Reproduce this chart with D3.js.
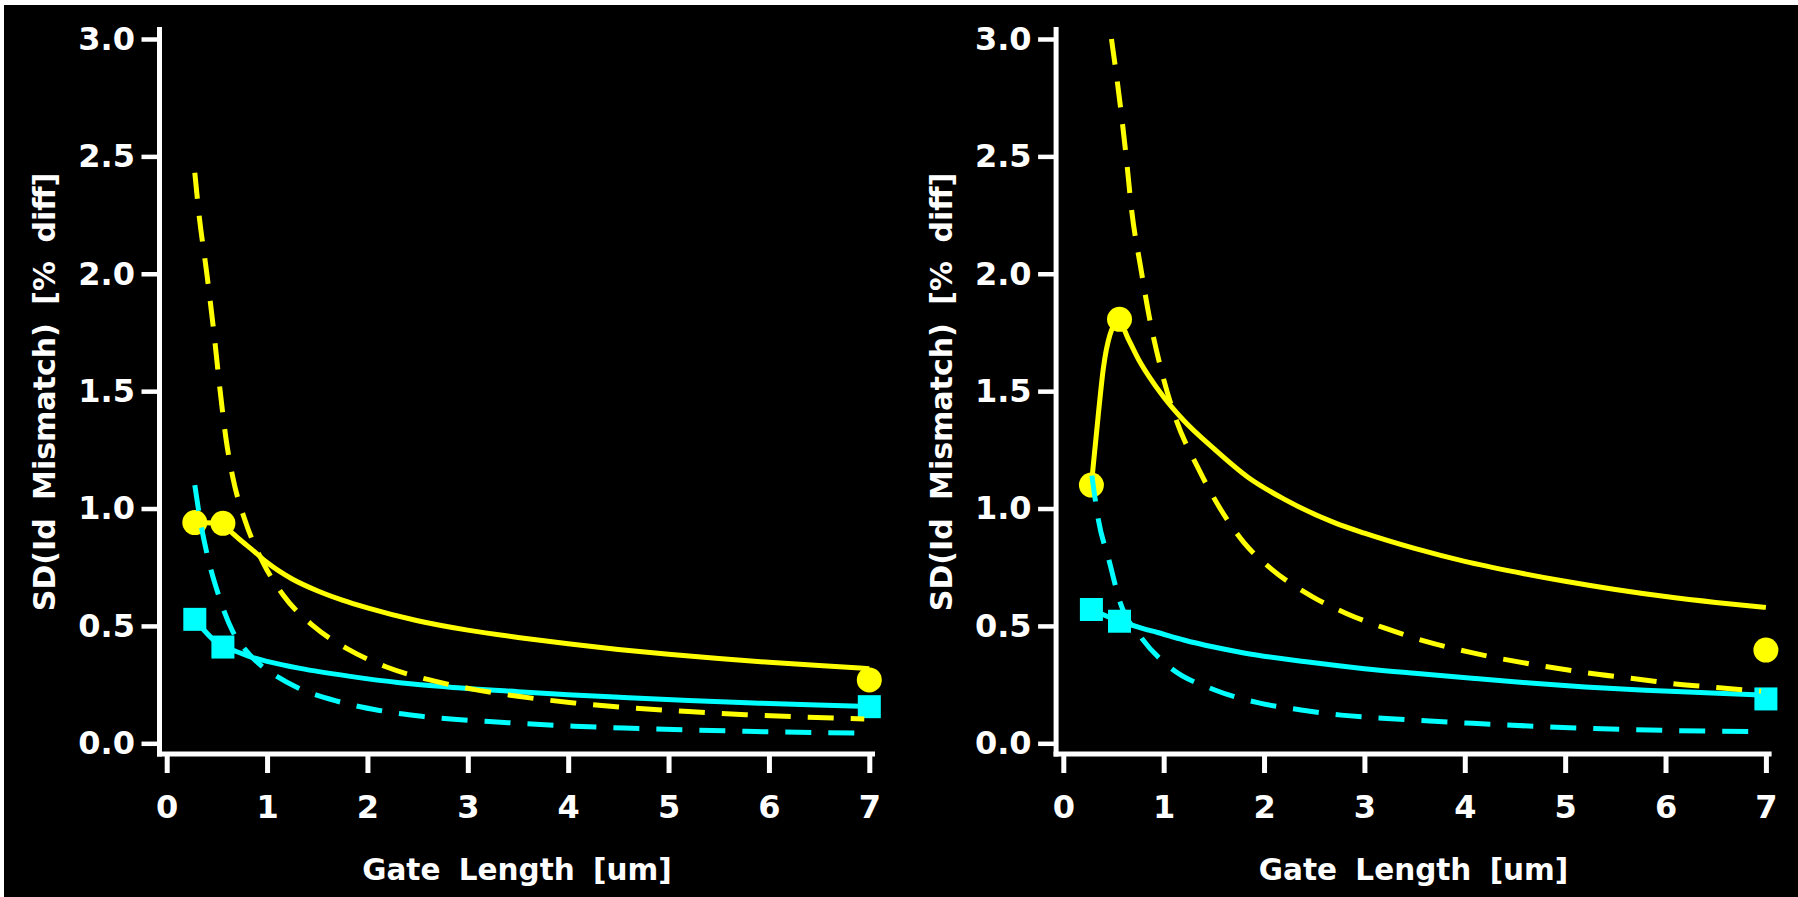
<!DOCTYPE html>
<html>
<head>
<meta charset="utf-8">
<script src="https://cdn.jsdelivr.net/npm/d3@7"></script>
<style>
  html, body { margin: 0; padding: 0; background: #000; }
  svg { display: block; }
</style>
</head>
<body>
<svg id="chart" width="1798" height="897"></svg>
<script>
// ---- axis ticks ----
const xTicks = [0, 1, 2, 3, 4, 5, 6, 7];
const yTicks = [0, 0.5, 1.0, 1.5, 2.0, 2.5, 3.0];

// ---- measured gate lengths (um) ----
const measuredL = [0.28, 0.56, 7];

// ---- left panel ----
const leftYellowMeasured = [0.94, 0.937, 0.27];
const leftCyanMeasured   = [0.528, 0.41, 0.156];
const leftYellowSolid = [
  [0.28, 0.94], [0.56, 0.937], [0.63, 0.905], [0.75, 0.86], [0.85, 0.825],
  [1.0, 0.77], [1.25, 0.70], [1.5, 0.65], [1.75, 0.61], [2.0, 0.577],
  [2.5, 0.522], [3.0, 0.482], [3.5, 0.451], [4.0, 0.424], [4.5, 0.40],
  [5.0, 0.379], [5.5, 0.361], [6.0, 0.345], [6.5, 0.331], [7.0, 0.318]
];
const leftCyanSolid = [
  [0.28, 0.528], [0.56, 0.41], [0.70, 0.39], [0.85, 0.366], [1.0, 0.349],
  [1.33, 0.319], [1.83, 0.285], [2.32, 0.258], [2.8, 0.24], [3.5, 0.22],
  [4.0, 0.207], [4.6, 0.194], [5.2, 0.182], [5.9, 0.171], [6.4, 0.164],
  [7.0, 0.157]
];
const leftYellowDashed = [
  [0.28, 2.43], [0.32, 2.26], [0.40, 2.0], [0.47, 1.75], [0.53, 1.51],
  [0.59, 1.30], [0.66, 1.13], [0.78, 0.95], [0.96, 0.77], [1.16, 0.632],
  [1.46, 0.50], [1.81, 0.40], [2.19, 0.325], [2.6, 0.272], [3.03, 0.232],
  [3.5, 0.20], [4.06, 0.172], [4.63, 0.151], [5.2, 0.135], [5.77, 0.122],
  [6.35, 0.112], [6.95, 0.104]
];
const leftCyanDashed = [
  [0.28, 1.10], [0.33, 0.96], [0.40, 0.81], [0.51, 0.64], [0.66, 0.475],
  [0.78, 0.40], [0.93, 0.335], [1.08, 0.29], [1.31, 0.236], [1.71, 0.178],
  [2.12, 0.14], [2.54, 0.115], [3.4, 0.088], [4.06, 0.073], [4.63, 0.064],
  [5.77, 0.051], [6.95, 0.043]
];

// ---- right panel ----
const rightYellowMeasured = [1.10, 1.806, 0.397];
const rightCyanMeasured   = [0.57, 0.52, 0.189];
const rightYellowSolid = [
  [0.28, 1.10], [0.30, 1.19], [0.35, 1.405], [0.40, 1.60], [0.465, 1.74],
  [0.55, 1.80], [0.65, 1.72], [0.75, 1.635], [0.85, 1.565], [1.0, 1.475],
  [1.2, 1.375], [1.5, 1.255], [1.85, 1.13], [2.2, 1.04], [2.7, 0.94],
  [3.0, 0.895], [3.5, 0.83], [4.0, 0.775], [4.5, 0.73], [5.0, 0.69],
  [5.5, 0.655], [6.0, 0.625], [6.5, 0.60], [7.0, 0.579]
];
const rightCyanSolid = [
  [0.28, 0.57], [0.56, 0.52], [0.77, 0.492], [0.94, 0.472], [1.2, 0.44],
  [1.5, 0.41], [1.8, 0.385], [2.4, 0.348], [3.0, 0.318], [3.5, 0.298],
  [4.1, 0.276], [4.65, 0.257], [5.2, 0.24], [5.8, 0.226], [6.4, 0.215],
  [6.95, 0.206]
];
const rightYellowDashed = [
  [0.48, 3.0], [0.57, 2.71], [0.626, 2.50], [0.684, 2.26], [0.77, 2.03],
  [0.855, 1.82], [0.97, 1.60], [1.11, 1.395], [1.34, 1.175], [1.57, 0.995],
  [1.80, 0.855], [2.08, 0.74], [2.48, 0.625], [2.82, 0.553], [3.22, 0.488],
  [3.62, 0.433], [4.08, 0.385], [4.65, 0.338], [5.22, 0.30], [5.79, 0.27],
  [6.1, 0.253], [6.5, 0.238], [6.95, 0.222]
];
const rightCyanDashed = [
  [0.285, 1.14], [0.35, 0.951], [0.455, 0.78], [0.57, 0.596], [0.77, 0.454],
  [1.055, 0.326], [1.51, 0.227], [1.97, 0.17], [2.37, 0.142], [2.77, 0.12],
  [3.22, 0.106], [4.08, 0.085], [5.22, 0.064], [6.0, 0.055], [6.95, 0.05]
];

const panels = [
  { offset: 0,
    yellowMeasured: leftYellowMeasured, cyanMeasured: leftCyanMeasured,
    yellowSolid: leftYellowSolid, cyanSolid: leftCyanSolid,
    yellowDashed: leftYellowDashed, cyanDashed: leftCyanDashed },
  { offset: 896.6,
    yellowMeasured: rightYellowMeasured, cyanMeasured: rightCyanMeasured,
    yellowSolid: rightYellowSolid, cyanSolid: rightCyanSolid,
    yellowDashed: rightYellowDashed, cyanDashed: rightCyanDashed }
];

const YELLOW = "#ffff00";
const CYAN = "#00ffff";
const WHITE = "#ffffff";
const FONT = "'DejaVu Sans', 'Liberation Sans', Arial, sans-serif";

const svg = d3.select("#chart");
svg.append("rect").attr("width", 1798).attr("height", 897).attr("fill", "#000");
// thin white frame edges along top and left
svg.append("rect").attr("x", 0).attr("y", 0).attr("width", 1798).attr("height", 5).attr("fill", WHITE);
svg.append("rect").attr("x", 0).attr("y", 0).attr("width", 4).attr("height", 897).attr("fill", WHITE);

const y = d3.scaleLinear().domain([0, 3]).range([743.3, 39]);

panels.forEach(p => {
  const g = svg.append("g").attr("transform", `translate(${p.offset},0)`);
  const x = d3.scaleLinear().domain([0, 7]).range([166.7, 869.3]);

  // y axis
  const yAxis = d3.axisLeft(y).tickValues(yTicks).tickFormat(d3.format(".1f"))
    .tickSize(18).tickPadding(6.5);
  const gy = g.append("g").attr("transform", "translate(159.5,0)").call(yAxis);
  gy.select(".domain").remove();
  gy.selectAll(".tick line").attr("stroke", WHITE).attr("stroke-width", 4.5);
  gy.selectAll(".tick text").attr("fill", WHITE).attr("font-family", FONT)
    .attr("font-weight", "bold").attr("font-size", 32);
  g.append("line").attr("x1", 159.5).attr("x2", 159.5).attr("y1", 27).attr("y2", 756.5)
    .attr("stroke", WHITE).attr("stroke-width", 5);

  // x axis
  const xAxis = d3.axisBottom(x).tickValues(xTicks).tickFormat(d3.format("d"))
    .tickSize(19).tickPadding(22.3);
  const gx = g.append("g").attr("transform", "translate(0,754)").call(xAxis);
  gx.select(".domain").remove();
  gx.selectAll(".tick line").attr("stroke", WHITE).attr("stroke-width", 5);
  gx.selectAll(".tick text").attr("fill", WHITE).attr("font-family", FONT)
    .attr("font-weight", "bold").attr("font-size", 32);
  g.append("line").attr("x1", 157).attr("x2", 875).attr("y1", 754).attr("y2", 754)
    .attr("stroke", WHITE).attr("stroke-width", 5);

  // axis titles
  g.append("text").attr("x", 517).attr("y", 880).attr("text-anchor", "middle")
    .attr("fill", WHITE).attr("font-family", FONT).attr("font-weight", "bold")
    .attr("font-size", 29.5).attr("word-spacing", 8)
    .text("Gate Length [um]");
  g.append("text").attr("transform", "translate(55,392) rotate(-90)")
    .attr("text-anchor", "middle")
    .attr("fill", WHITE).attr("font-family", FONT).attr("font-weight", "bold")
    .attr("font-size", 30).attr("word-spacing", 8)
    .text("SD(Id Mismatch) [% diff]");

  const line = d3.line().x(d => x(d[0])).y(d => y(d[1])).curve(d3.curveMonotoneX);

  // fitted solid curves
  g.append("path").attr("d", line(p.yellowSolid)).attr("fill", "none")
    .attr("stroke", YELLOW).attr("stroke-width", 5).attr("stroke-linejoin", "round");
  g.append("path").attr("d", line(p.cyanSolid)).attr("fill", "none")
    .attr("stroke", CYAN).attr("stroke-width", 5).attr("stroke-linejoin", "round");

  // measured points
  g.selectAll(".ypt").data(measuredL.map((L, i) => [L, p.yellowMeasured[i]]))
    .enter().append("circle")
    .attr("cx", d => x(d[0])).attr("cy", d => y(d[1])).attr("r", 12.5).attr("fill", YELLOW);
  const s = 23;
  g.selectAll(".cpt").data(measuredL.map((L, i) => [L, p.cyanMeasured[i]]))
    .enter().append("rect")
    .attr("x", d => x(d[0]) - s / 2).attr("y", d => y(d[1]) - s / 2)
    .attr("width", s).attr("height", s).attr("fill", CYAN);

  // dashed model curves
  g.append("path").attr("d", line(p.yellowDashed)).attr("fill", "none")
    .attr("stroke", YELLOW).attr("stroke-width", 5).attr("stroke-dasharray", "26,17");
  g.append("path").attr("d", line(p.cyanDashed)).attr("fill", "none")
    .attr("stroke", CYAN).attr("stroke-width", 5).attr("stroke-dasharray", "26,17");
});
</script>
</body>
</html>
